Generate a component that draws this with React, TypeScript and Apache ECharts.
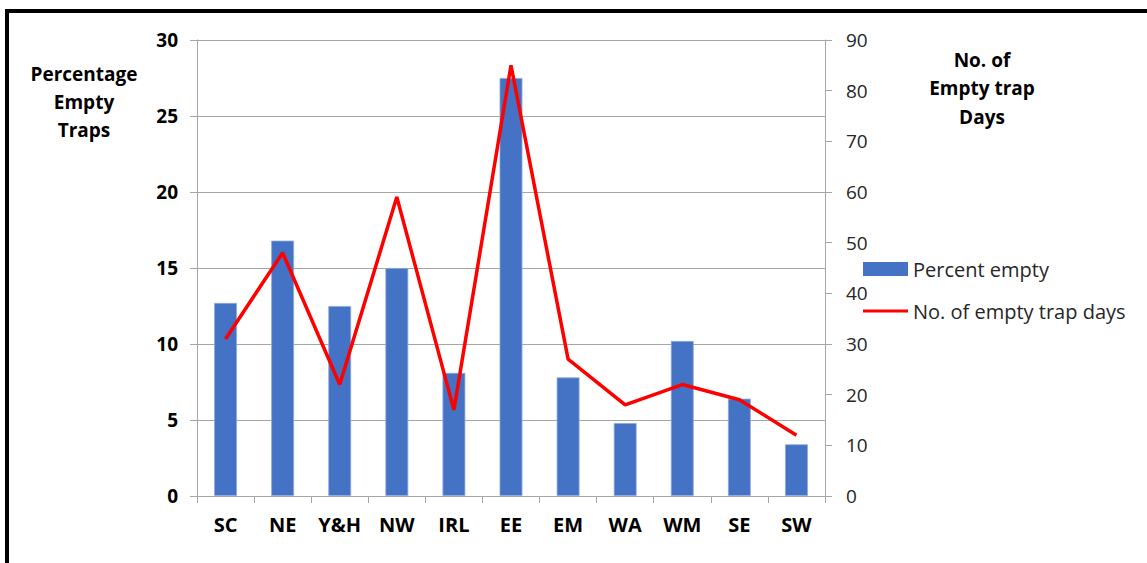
import React, { useEffect, useRef } from "react";
import * as echarts from "echarts";

const categories = ["SC", "NE", "Y&H", "NW", "IRL", "EE", "EM", "WA", "WM", "SE", "SW"];
const percentEmpty = [12.7, 16.8, 12.5, 15.0, 8.1, 27.5, 7.8, 4.8, 10.2, 6.4, 3.4];
const emptyTrapDays = [31, 48, 22, 59, 17, 85, 27, 18, 22, 19, 12];
const leftTitle = "Percentage\nEmpty\nTraps";
const rightTitle = "No. of\nEmpty trap\nDays";
const seriesNames = ["Percent empty", "No. of empty trap days"];

const FONT = "'Open Sans', Lato, sans-serif";
const AXIS_GRAY = "#a6a6a6";

export default function App() {
  const ref = useRef<HTMLDivElement>(null);
  useEffect(() => {
    if (!ref.current) return;
    const chart = echarts.init(ref.current, null, { renderer: "svg" });
    chart.setOption({
      animation: false,
      backgroundColor: "#ffffff",
      textStyle: { fontFamily: FONT },
      grid: { left: 197, right: 322, top: 40, bottom: 67, containLabel: false },
      legend: {
        orient: "vertical",
        left: 858,
        top: 254,
        itemWidth: 45,
        itemHeight: 14,
        itemGap: 22,
        symbolKeepAspect: true,
        textStyle: { fontFamily: FONT, fontSize: 20, color: "#262626" },
        data: [
          { name: seriesNames[0], icon: "rect", itemStyle: { color: "#4472C4", borderWidth: 0 } },
          {
            name: seriesNames[1],
            icon: "path://M0,0H45V3H0Z",
            itemStyle: { color: "#FF0000", borderWidth: 0 },
          },
        ],
      },
      xAxis: {
        type: "category",
        data: categories,
        boundaryGap: true,
        axisLine: { show: true, lineStyle: { color: AXIS_GRAY, width: 1 } },
        axisTick: { show: true, length: 7, lineStyle: { color: AXIS_GRAY } },
        axisLabel: { color: "#000", fontWeight: "bold", fontSize: 20, margin: 18, fontFamily: FONT },
      },
      yAxis: [
        {
          type: "value",
          min: 0,
          max: 30,
          interval: 5,
          axisLine: { show: true, lineStyle: { color: AXIS_GRAY } },
          axisTick: { show: true, length: 7, lineStyle: { color: AXIS_GRAY } },
          axisLabel: { color: "#000", fontWeight: "bold", fontSize: 19, margin: 19, fontFamily: FONT },
          splitLine: { show: true, lineStyle: { color: AXIS_GRAY, width: 1 } },
        },
        {
          type: "value",
          min: 0,
          max: 90,
          interval: 10,
          position: "right",
          axisLine: { show: true, lineStyle: { color: AXIS_GRAY } },
          axisTick: { show: true, length: 7, lineStyle: { color: AXIS_GRAY } },
          axisLabel: { color: "#262626", fontSize: 19, margin: 21, fontFamily: FONT },
          splitLine: { show: false },
        },
      ],
      series: [
        {
          name: seriesNames[0],
          type: "bar",
          data: percentEmpty,
          yAxisIndex: 0,
          barWidth: "40%",
          itemStyle: { color: "#4472C4", borderColor: "#8eaadb", borderWidth: 0.8 },
        },
        {
          name: seriesNames[1],
          type: "line",
          data: emptyTrapDays,
          yAxisIndex: 1,
          symbol: "none",
          lineStyle: { color: "#FF0000", width: 3.5 },
          itemStyle: { color: "#FF0000" },
        },
      ],
      graphic: [
        { type: "rect", shape: { x: 5, y: 9, width: 1142, height: 4 }, style: { fill: "#000" }, silent: true },
        { type: "rect", shape: { x: 5, y: 9, width: 4, height: 554 }, style: { fill: "#000" }, silent: true },
        {
          type: "text",
          x: 84,
          y: 102,
          style: {
            text: leftTitle,
            textAlign: "center",
            textVerticalAlign: "middle",
            fontFamily: FONT,
            fontSize: 19,
            fontWeight: "bold",
            lineHeight: 28,
            fill: "#000",
          },
        },
        {
          type: "text",
          x: 982,
          y: 88,
          style: {
            text: rightTitle,
            textAlign: "center",
            textVerticalAlign: "middle",
            fontFamily: FONT,
            fontSize: 19,
            fontWeight: "bold",
            lineHeight: 28.5,
            fill: "#000",
          },
        },
      ],
    });
    return () => chart.dispose();
  }, []);
  return (
    <div
      ref={ref}
      style={{ position: "fixed", left: 0, top: 0, width: 1147, height: 563, background: "#fff" }}
    />
  );
}
